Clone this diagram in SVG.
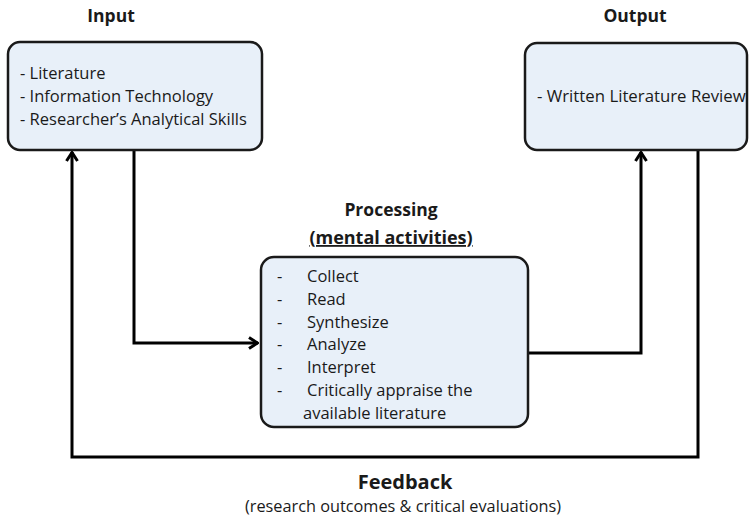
<svg xmlns="http://www.w3.org/2000/svg" width="753" height="519" viewBox="0 0 753 519">
<style>
.box{fill:#e8f0f9;stroke:#1a1a1a;stroke-width:2.5}
.ln{fill:none;stroke:#000;stroke-width:3}
.t{font-family:"Open Sans","Liberation Sans",sans-serif;fill:#1a1a1a}
.b{font-weight:bold}
</style>
<defs>
<marker id="ah" viewBox="0 0 12 14" refX="11" refY="7" markerWidth="12" markerHeight="14" markerUnits="userSpaceOnUse" orient="auto">
<path d="M2,1.5 L10.5,7 L2,12.5" fill="none" stroke="#000" stroke-width="3"/>
</marker>
</defs>
<rect width="753" height="519" fill="#fff"/>
<g id="connectors">
<polyline class="ln" points="134,151 134,343 258,343" marker-end="url(#ah)"/>
<polyline class="ln" points="528,353 641,353 641,152" marker-end="url(#ah)"/>
<polyline class="ln" points="698,151 698,457 72,457 72,152" marker-end="url(#ah)"/>
</g>
<g id="input">
<text class="t b" x="111" y="22" font-size="17.5" text-anchor="middle">Input</text>
<rect class="box" x="8" y="42" width="254" height="108" rx="12"/>
<text class="t" font-size="16.5"><tspan x="20" y="79">- Literature</tspan><tspan x="20" y="102">- Information Technology</tspan><tspan x="20" y="125">- Researcher’s Analytical Skills</tspan></text>
</g>
<g id="output">
<text class="t b" x="635" y="22" font-size="17.5" text-anchor="middle">Output</text>
<rect class="box" x="525" y="43" width="222" height="107" rx="12"/>
<text class="t" x="537" y="102" font-size="16.8">- Written Literature Review</text>
</g>
<g id="processing">
<text class="t b" x="391" y="216" font-size="17.5" text-anchor="middle">Processing</text>
<text class="t b" x="391" y="244" font-size="18" text-anchor="middle" text-decoration="underline">(mental activities)</text>
<rect class="box" x="261" y="257" width="267" height="170" rx="13"/>
<text class="t" font-size="16.5"><tspan x="277" y="282">-</tspan><tspan x="277" y="305">-</tspan><tspan x="277" y="328">-</tspan><tspan x="277" y="350">-</tspan><tspan x="277" y="373">-</tspan><tspan x="277" y="396">-</tspan></text>
<text class="t" font-size="16.5"><tspan x="307" y="282">Collect</tspan><tspan x="307" y="305">Read</tspan><tspan x="307" y="328">Synthesize</tspan><tspan x="307" y="350">Analyze</tspan><tspan x="307" y="373">Interpret</tspan><tspan x="307" y="396">Critically appraise the</tspan><tspan x="303" y="419">available literature</tspan></text>
</g>
<g id="feedback">
<text class="t b" x="405" y="489" font-size="20" text-anchor="middle">Feedback</text>
<text class="t" x="403" y="512" font-size="16.3" text-anchor="middle">(research outcomes &amp; critical evaluations)</text>
</g>
</svg>
